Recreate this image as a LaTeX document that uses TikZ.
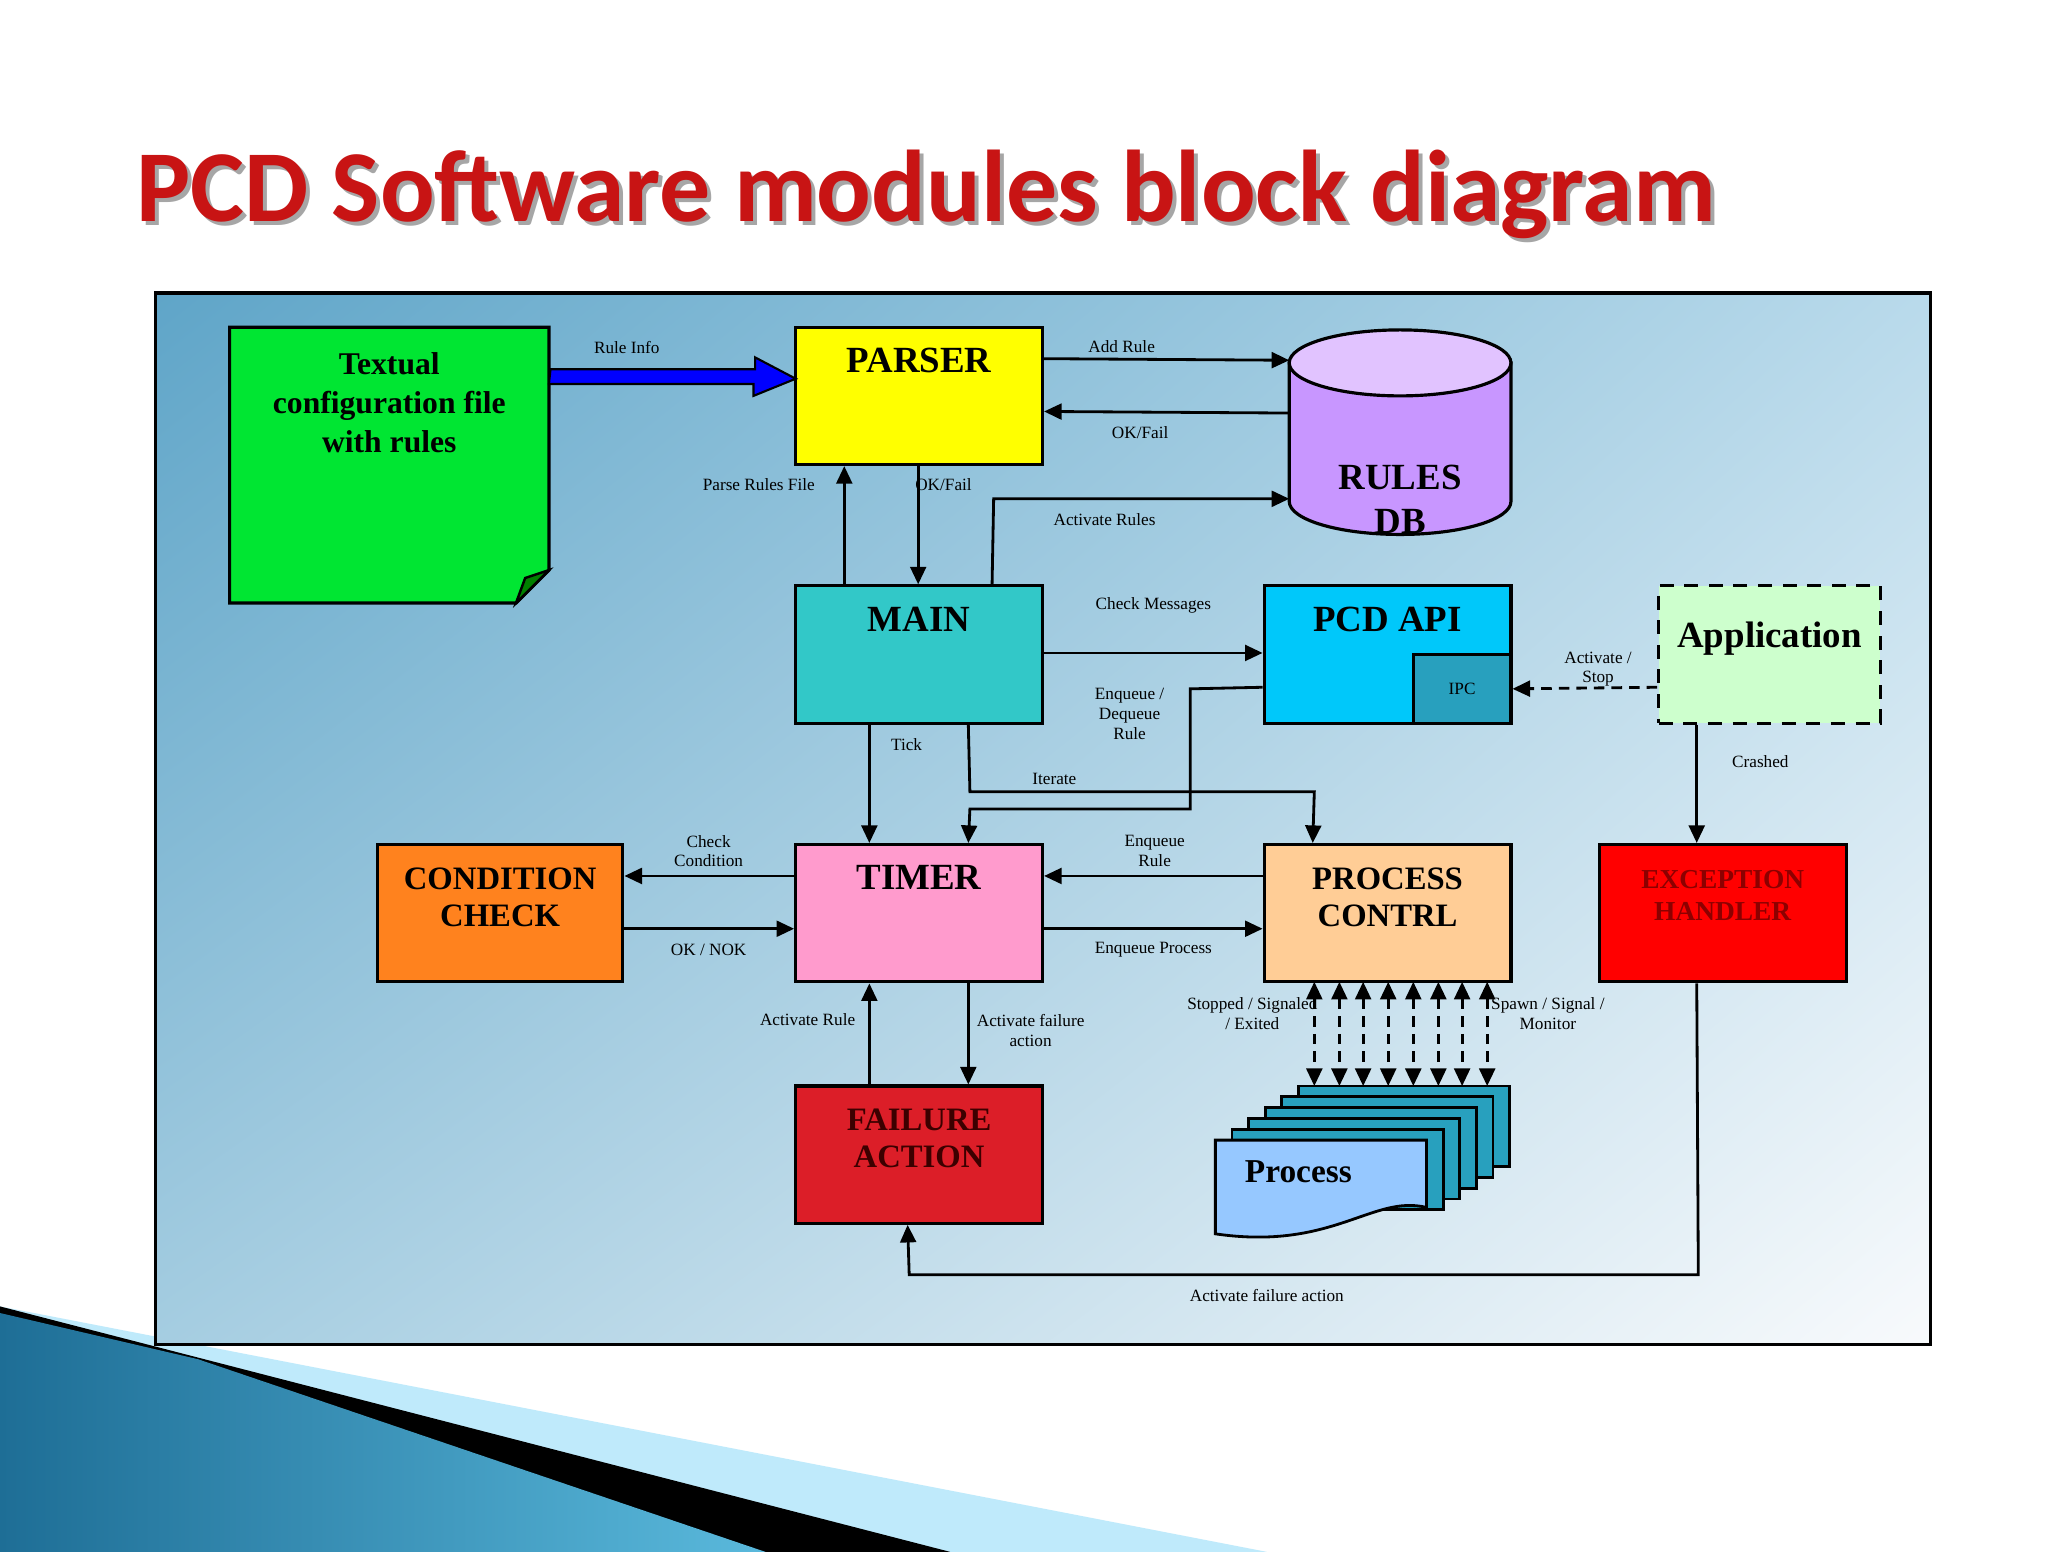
\documentclass[tikz,border=0pt]{standalone}
\usepackage{fontspec}
\setmainfont{Liberation Serif}
\newfontfamily\titlefont{Carlito}
\usetikzlibrary{fit,calc,arrows.meta,shadings}
\definecolor{cgreen}{RGB}{0,230,50}
\definecolor{cyel}{RGB}{255,255,0}
\definecolor{clav}{RGB}{200,150,255}
\definecolor{clavtop}{RGB}{225,195,255}
\definecolor{cteal}{RGB}{50,200,200}
\definecolor{capi}{RGB}{0,200,250}
\definecolor{cipc}{RGB}{40,160,190}
\definecolor{capp}{RGB}{205,255,205}
\definecolor{corange}{RGB}{255,130,30}
\definecolor{cpink}{RGB}{255,155,205}
\definecolor{cpeach}{RGB}{255,205,150}
\definecolor{cred}{RGB}{255,0,0}
\definecolor{cfail}{RGB}{220,30,40}
\definecolor{cproc}{RGB}{150,200,255}
\definecolor{ctitle}{RGB}{200,20,20}
\definecolor{bgul}{RGB}{95,165,200}
\definecolor{bgur}{RGB}{185,218,235}
\definecolor{bgll}{RGB}{165,205,225}
\definecolor{bglr}{RGB}{248,250,252}
\definecolor{decoA}{RGB}{30,110,150}
\definecolor{decoB}{RGB}{90,185,220}
\definecolor{darkred}{RGB}{140,0,0}
\definecolor{darkfail}{RGB}{60,0,0}
\tikzset{
  box/.style={draw=black,line width=0.9pt,inner sep=0pt},
  btxt/.style={font=\bfseries\fontsize{10.5}{11.5}\selectfont,align=center,anchor=north},
  btxs/.style={btxt,font=\bfseries\fontsize{9.3}{10.6}\selectfont},
  lbl/.style={font=\fontsize{4.9}{5.6}\selectfont,align=center},
  arr/.style={-{Triangle[length=5pt,width=4.5pt]},line width=0.8pt},
  darr/.style={{Triangle[length=5pt,width=4.5pt]}-{Triangle[length=5pt,width=4.5pt]},line width=0.8pt,dash pattern=on 3pt off 2pt},
}
\begin{document}
\begin{tikzpicture}[x=0.0132cm,y=-0.0132cm]
\useasboundingbox (0,0) rectangle (1552,1176);
\fill[white] (0,0) rectangle (1552,1176);
% bottom-left decoration
\fill[cyan!25!white] (0,990) -- (960,1176) -- (0,1176) -- cycle;
\fill[black] (0,990) -- (720,1176) -- (0,1176) -- cycle;
\shade[left color=decoA,right color=decoB] (0,995) -- (150,1030) -- (580,1176) -- (0,1176) -- cycle;
% title
\node[anchor=west,font=\titlefont\bfseries\fontsize{29}{32}\selectfont,text=black!35] at (97,150) {PCD Software modules block diagram};
\node[anchor=west,font=\titlefont\bfseries\fontsize{29}{32}\selectfont,text=ctitle] at (94,147) {PCD Software modules block diagram};
% frame
\shade[upper left=bgul,upper right=bgur,lower left=bgll,lower right=bglr] (118,222) rectangle (1463,1019);
\draw[line width=1pt] (118,222) rectangle (1463,1019);
% textual
\filldraw[fill=cgreen,line width=0.9pt] (174,248) -- (416,248) -- (416,432) -- (391,457) -- (174,457) -- cycle;
\filldraw[fill=green!50!black,line width=0.7pt] (391,457) -- (398,438) -- (416,432) -- cycle;
\node[box,draw=none,fit={(174,248)(416,457)}] (txt) {};
\node[btxt,font=\bfseries\fontsize{9}{11}\selectfont] at (295,258) {Textual\\configuration file\\with rules};
% boxes
\node[box,fill=cyel,fit={(603,248)(790,352)}] (parser) {};
\node[btxt] at (parser.north) [yshift=-0.1cm] {PARSER};
\node[box,fill=cteal,fit={(603,444)(790,548)}] (main) {};
\node[btxt] at (main.north) [yshift=-0.1cm] {MAIN};
\node[box,fill=capi,fit={(958,444)(1145,548)}] (api) {};
\node[btxt] at (api.north) [yshift=-0.1cm] {PCD API};
\node[box,fill=cipc,fit={(1071,496)(1145,548)}] (ipc) {};
\node[lbl] at (ipc) {IPC};
\node[box,fill=capp,dash pattern=on 4pt off 3pt,fit={(1257,444)(1425,548)}] (app) {};
\node[btxt] at (app.north) [yshift=-0.25cm] {Application};
\node[box,fill=corange,fit={(286,640)(472,744)}] (cond) {};
\node[btxs] at (cond.north) [yshift=-0.12cm] {CONDITION\\CHECK};
\node[box,fill=cpink,fit={(603,640)(790,744)}] (timer) {};
\node[btxt] at (timer.north) [yshift=-0.1cm] {TIMER};
\node[box,fill=cpeach,fit={(958,640)(1145,744)}] (proc) {};
\node[btxs] at (proc.north) [yshift=-0.12cm] {PROCESS\\CONTRL};
\node[box,fill=cred,fit={(1212,640)(1399,744)}] (exc) {};
\node[btxt,font=\bfseries\fontsize{7.8}{9}\selectfont,text=darkred] at (exc.north) [yshift=-0.15cm] {EXCEPTION\\HANDLER};
\node[box,fill=cfail,fit={(603,823)(790,927)}] (fail) {};
\node[btxs,text=darkfail] at (fail.north) [yshift=-0.12cm] {FAILURE\\ACTION};
% rules db cylinder
\filldraw[fill=clav,line width=0.9pt] (977,275) -- (977,380) arc[start angle=180,end angle=0,x radius=84,y radius=25] -- (1145,275) -- cycle;
\filldraw[fill=clavtop,line width=0.9pt] (1061,275) ellipse[x radius=84,y radius=25];
\node[box,draw=none,fit={(977,250)(1145,405)}] (db) {};
\node[btxt,font=\bfseries\fontsize{10.5}{12.5}\selectfont] at (1061,343) {RULES\\DB};
% process stack
\foreach \k in {5,4,3,2,1} {
  \filldraw[fill=cipc,line width=0.8pt] ({921+12.6*\k},{864-8.2*\k}) rectangle ({1081+12.6*\k},{925-8.2*\k});
}
\filldraw[fill=cproc,line width=0.8pt] (921,864) -- (1081,864) -- (1081,915) .. controls (1040,905) and (1010,948) .. (921,935) -- cycle;
\node[box,draw=none,fit={(921,823)(1145,940)}] (pstack) {};
\node[font=\bfseries\fontsize{9.5}{11}\selectfont,anchor=west] at (934,888) {Process};
% connectors
\draw[draw=black,fill=blue,line width=0.6pt] ($(txt.north east)+(0,33)$) -- ++(155,0) -- ++(0,-9) -- (603,287) -- (571,300) -- ++(0,-9) -- ++(-155,0) -- cycle;
\node[lbl] at (475,263) {Rule Info};
\draw[arr] ($(parser.north east)+(0,25)$) -- (977,273);
\node[lbl] at (850,263) {Add Rule};
\draw[arr] (977,313) -- ($(parser.north east)+(0,65)$);
\node[lbl] at (864,328) {OK/Fail};
\draw[arr] ($(main.north west)+(38,0)$) -- ($(parser.south west)+(38,0)$);
\node[lbl] at (575,367) {Parse Rules File};
\draw[arr] ($(parser.south west)+(94,0)$) -- ($(main.north west)+(94,0)$);
\node[lbl] at (715,367) {OK/Fail};
\draw[arr] ($(main.north west)+(150,0)$) -- (753,378) -- (977,378);
\node[lbl] at (837,394) {Activate Rules};
\draw[arr] ($(main.north east)+(0,52)$) -- ($(api.north west)+(0,52)$);
\node[lbl] at (874,459) {Check Messages};
\draw[arr] ($(api.north west)+(0,78)$) -- (902,522) -- (902,613) -- (735,613) -- ($(timer.north west)+(132,0)$);
\node[lbl] at (856,541) {Enqueue /\\Dequeue\\Rule};
\draw[arr] ($(main.south west)+(132,0)$) -- (735,600) -- (996,600) -- ($(proc.north west)+(38,0)$);
\node[lbl] at (799,590) {Iterate};
\draw[arr] ($(main.south west)+(57,0)$) -- ($(timer.north west)+(57,0)$);
\node[lbl] at (687,564) {Tick};
\draw[arr,dash pattern=on 3pt off 2pt] ($(app.north west)+(0,78)$) -- (ipc.east);
\node[lbl] at (1211,507) {Activate /\\Stop};
\draw[arr] ($(app.south west)+(30,0)$) -- ($(exc.north west)+(75,0)$);
\node[lbl] at (1334,577) {Crashed};
\draw[arr] ($(timer.north west)+(0,25)$) -- ($(cond.north east)+(0,25)$);
\node[lbl] at (537,645) {Check\\Condition};
\draw[arr] ($(cond.north east)+(0,65)$) -- ($(timer.north west)+(0,65)$);
\node[lbl] at (537,720) {OK / NOK};
\draw[arr] ($(proc.north west)+(0,25)$) -- ($(timer.north east)+(0,25)$);
\node[lbl] at (875,645) {Enqueue\\Rule};
\draw[arr] ($(timer.north east)+(0,65)$) -- ($(proc.north west)+(0,65)$);
\node[lbl] at (874,720) {Enqueue Process};
\draw[arr] ($(fail.north west)+(57,0)$) -- ($(timer.south west)+(57,0)$);
\node[lbl] at (612,773) {Activate Rule};
\draw[arr] ($(timer.south west)+(132,0)$) -- ($(fail.north west)+(132,0)$);
\node[lbl] at (781,781) {Activate failure\\action};
\draw[arr] ($(exc.south west)+(75,0)$) -- (1287,966) -- (689,966) -- ($(fail.south west)+(86,0)$);
\node[lbl] at (960,982) {Activate failure action};
\foreach \xx in {996,1015,1033,1052,1071,1090,1108,1127} {
  \draw[darr] (\xx,744) -- (\xx,823);
}
\node[lbl] at (949,768) {Stopped / Signaled\\/ Exited};
\node[lbl] at (1173,768) {Spawn / Signal /\\Monitor};
\end{tikzpicture}
\end{document}
